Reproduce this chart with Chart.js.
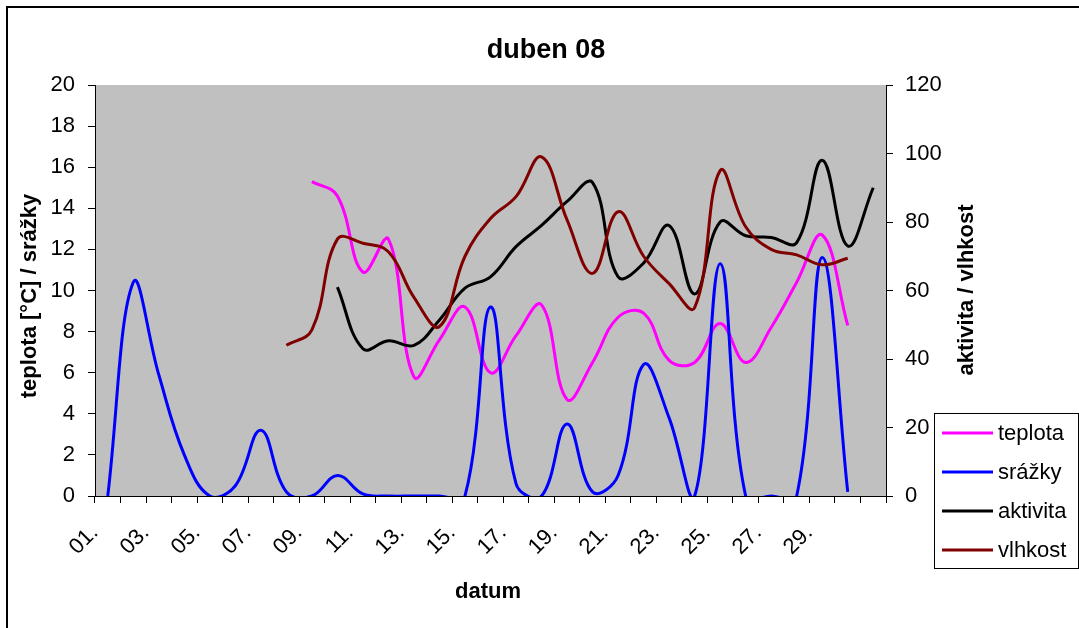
<!DOCTYPE html>
<html>
<head>
<meta charset="utf-8">
<script src="https://cdn.jsdelivr.net/npm/chart.js@4.4.1/dist/chart.umd.min.js"></script>
<style>
  html, body { margin: 0; padding: 0; background: #fff; }
  #wrap { width: 1079px; height: 628px; }
</style>
</head>
<body>
<div id="wrap"><canvas id="dubenChart" width="1079" height="628"></canvas></div>
<script>
const days = ['01.', '02.', '03.', '04.', '05.', '06.', '07.', '08.', '09.', '10.',
    '11.', '12.', '13.', '14.', '15.', '16.', '17.', '18.', '19.', '20.',
    '21.', '22.', '23.', '24.', '25.', '26.', '27.', '28.', '29.', '30.', ''];

// left axis
const teplota = [null, null, null, null, null, null, null, null, 15.3, 14.6,
    10.9, 12.5, 5.8, 7.6, 9.2, 6.0, 7.8, 9.3, 4.7, 6.5,
    8.7, 8.9, 6.6, 6.5, 8.4, 6.5, 8.2, 10.4, 12.7, 8.3, null];
const srazky = [0, 10.4, 5.9, 2.0, 0, 0.5, 3.2, 0.2, 0, 1.0,
    0.1, 0, 0, 0, 0, 9.2, 0.6, 0, 3.5, 0.2,
    1.0, 6.4, 3.8, 0, 11.3, 0, 0, 0, 11.6, 0.2, null];

// right axis
const aktivita = [null, null, null, null, null, null, null, null, null, 61,
    43, 45.3, 44, 51.4, 60.7, 64, 72.8, 79, 86, 91.5,
    64, 68, 79, 59, 80, 76, 75.5, 74, 98, 73, 90];
const vlhkost = [null, null, null, null, null, null, null, 44, 48.5, 75,
    73.8, 71.3, 58, 49.5, 70, 81, 87.4, 99, 80.6, 65,
    83, 70, 62, 55, 95, 78.6, 72, 70.4, 67.5, 69.4, null];

const leftTicks = [0, 2, 4, 6, 8, 10, 12, 14, 16, 18, 20];
const rightTicks = [0, 20, 40, 60, 80, 100, 120];

const FONT = "'Liberation Sans', Arial, sans-serif";

document.addEventListener('DOMContentLoaded', () => {
    Chart.defaults.font.family = FONT;
    Chart.defaults.color = '#000';

    const ctx = document.getElementById('dubenChart').getContext('2d');

    const series = [
        { label: 'teplota', data: teplota, color: '#ff00ff', axis: 'y' },
        { label: 'srážky', data: srazky, color: '#0000ff', axis: 'y' },
        { label: 'aktivita', data: aktivita, color: '#000000', axis: 'y2' },
        { label: 'vlhkost', data: vlhkost, color: '#800000', axis: 'y2' }
    ];

    // plot background, frame, titles and the boxed legend
    const decor = {
        id: 'decor',
        beforeDraw(chart) {
            const c = chart.ctx;
            const a = chart.chartArea;
            c.save();
            c.fillStyle = '#fff';
            c.fillRect(0, 0, chart.width, chart.height);
            c.fillStyle = '#c0c0c0';
            c.fillRect(a.left, a.top, a.right - a.left, a.bottom - a.top);
            c.strokeStyle = '#000';
            c.lineWidth = 2;
            c.beginPath();
            c.moveTo(7, chart.height);
            c.lineTo(7, 7);
            c.lineTo(chart.width, 7);
            c.stroke();
            c.restore();
        },
        afterDraw(chart) {
            const c = chart.ctx;
            c.save();
            c.fillStyle = '#000';

            c.font = 'bold 27px ' + FONT;
            c.textAlign = 'center';
            c.textBaseline = 'alphabetic';
            c.fillText('duben 08', 546, 58);

            c.font = 'bold 22px ' + FONT;
            c.fillText('datum', 488, 598);

            c.textBaseline = 'middle';
            c.save();
            c.translate(30, 296);
            c.rotate(-Math.PI / 2);
            c.fillText('teplota [°C] / srážky', 0, 0);
            c.restore();

            c.save();
            c.translate(967, 290);
            c.rotate(-Math.PI / 2);
            c.fillText('aktivita / vlhkost', 0, 0);
            c.restore();

            // legend
            c.fillStyle = '#fff';
            c.fillRect(934, 413, 145, 155);
            c.strokeStyle = '#000';
            c.lineWidth = 1;
            c.strokeRect(934.5, 413.5, 144, 155);
            const rows = [433, 472, 511, 550];
            c.font = '22px ' + FONT;
            c.textAlign = 'left';
            series.forEach((s, i) => {
                c.strokeStyle = s.color;
                c.lineWidth = 3;
                c.beginPath();
                c.moveTo(942, rows[i]);
                c.lineTo(993, rows[i]);
                c.stroke();
                c.fillStyle = '#000';
                c.fillText(s.label, 998, rows[i] + 1);
            });
            c.restore();
        }
    };

    new Chart(ctx, {
        type: 'line',
        data: {
            labels: days,
            datasets: series.map((s, i) => ({
                label: s.label,
                data: s.data,
                yAxisID: s.axis,
                borderColor: s.color,
                backgroundColor: s.color,
                borderWidth: 3,
                pointRadius: 0,
                tension: 0.4,
                capBezierPoints: false,
                fill: false,
                order: series.length - i
            }))
        },
        options: {
            responsive: false,
            animation: false,
            layout: { padding: { top: 85, right: 73, bottom: 0, left: 0 } },
            plugins: {
                legend: { display: false },
                title: { display: false },
                tooltip: { enabled: false }
            },
            scales: {
                x: {
                    type: 'category',
                    offset: true,
                    grid: { offset: true, drawOnChartArea: false, drawTicks: true, tickLength: 7, color: '#000' },
                    border: { display: true, color: '#000', width: 1 },
                    ticks: {
                        autoSkip: false,
                        maxRotation: 45,
                        minRotation: 45,
                        padding: 17,
                        labelOffset: -13,
                        font: { size: 22 },
                        callback: function (val, index) {
                            return index % 2 === 0 ? this.getLabelForValue(val) : '';
                        }
                    },
                    afterFit: (scale) => { scale.height = 132; }
                },
                y: {
                    position: 'left',
                    min: 0,
                    max: 20,
                    afterBuildTicks: (scale) => { scale.ticks = leftTicks.map(v => ({ value: v })); },
                    grid: { drawOnChartArea: false, drawTicks: true, tickLength: 7, color: '#000' },
                    border: { display: true, color: '#000', width: 1 },
                    ticks: { padding: 13, font: { size: 22 } },
                    afterFit: (scale) => { scale.width = 95; }
                },
                y2: {
                    position: 'right',
                    min: 0,
                    max: 120,
                    afterBuildTicks: (scale) => { scale.ticks = rightTicks.map(v => ({ value: v })); },
                    grid: { drawOnChartArea: false, drawTicks: true, tickLength: 7, color: '#000' },
                    border: { display: true, color: '#000', width: 1 },
                    ticks: { padding: 12, font: { size: 22 } },
                    afterFit: (scale) => { scale.width = 120; }
                }
            }
        },
        plugins: [decor]
    });
});
</script>
</body>
</html>
